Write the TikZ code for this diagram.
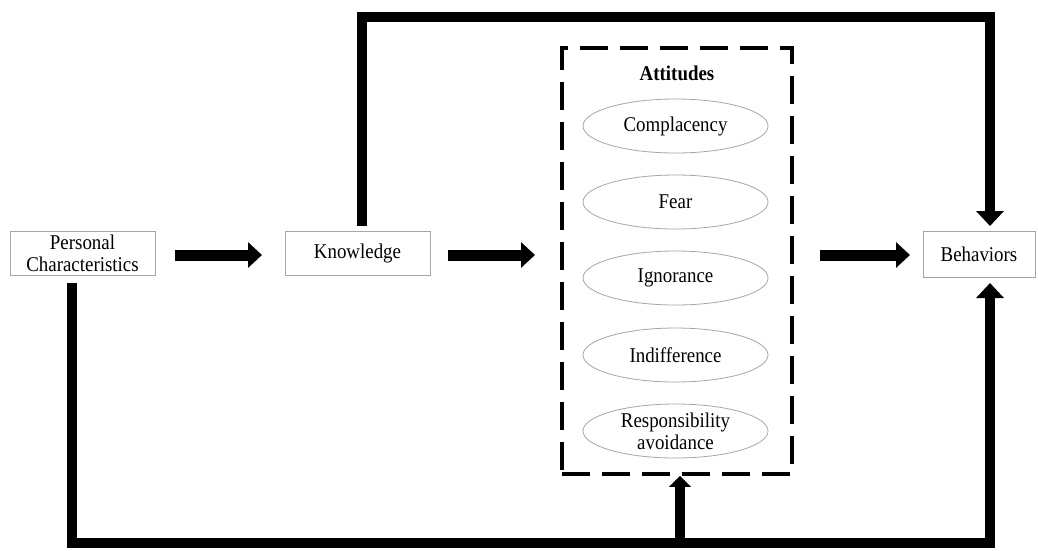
\documentclass[tikz,border=0pt]{standalone}
\usepackage{fontspec}
\setmainfont{Liberation Serif}[FakeStretch=0.9]
\usetikzlibrary{arrows.meta,shapes.geometric}
\begin{document}
\begin{tikzpicture}[x=1pt,y=-1pt,
 txt/.style={font=\fontsize{21}{22}\selectfont},
 box/.style={draw=gray!70, line width=0.8pt, inner sep=0pt, align=center, txt},
 ell/.style={ellipse, draw=gray!70, line width=0.8pt, minimum width=185pt, minimum height=54pt, inner sep=0pt, align=center, txt},
 fat/.style={line width=11pt, -{Triangle[length=14pt,width=25pt]}},
 loopline/.style={line width=10pt, line join=miter, -{Triangle[length=15pt,width=27pt]}},
 branch/.style={line width=10pt, -{Triangle[length=11pt,width=21pt]}}
]
\useasboundingbox (0,0) rectangle (1038,550);
\fill[white] (0,0) rectangle (1038,550);
% boxes
\node[box, minimum width=145pt, minimum height=44pt] (pc) at (82.5,253.5) {Personal\\Characteristics};
\node[box, minimum width=145pt, minimum height=44pt] (kn) at (357.5,253) {Knowledge};
\node[box, minimum width=112pt, minimum height=46pt] (beh) at (979,254) {Behaviors};
% attitudes
\node[draw, line width=3.5pt, dash pattern=on 28pt off 12pt, minimum width=230pt, minimum height=426pt, inner sep=0pt] (att) at (677,261) {};
\node[txt, font=\fontsize{21}{22}\selectfont\bfseries] (atl) at (677,73) {Attitudes};
\node[ell] (e1) at (675.5,126) {Complacency};
\node[ell] (e2) at (675.5,202) {Fear};
\node[ell] (e3) at (675.5,278) {Ignorance};
\node[ell] (e4) at (675.5,355) {Indifference};
\node[ell] (e5) at (675.5,431) {Responsibility\\avoidance};
% horizontal arrows
\coordinate (a1s) at (175,255); \coordinate (a1e) at (262,255);
\coordinate (a2s) at (448,255); \coordinate (a2e) at (535,255);
\coordinate (a3s) at (820,255); \coordinate (a3e) at (910,255);
\draw[fat] (a1s) -- (a1e);
\draw[fat] (a2s) -- (a2e);
\draw[fat] (a3s) -- (a3e);
% top loop
\coordinate (t0) at (362,226);
\coordinate (t1) at (362,17);
\coordinate (t2) at (990,17);
\coordinate (t3) at (990,226);
\draw[loopline] (t0) -- (t1) -- (t2) -- (t3);
% bottom loop
\coordinate (b0) at (72,283);
\coordinate (b1) at (72,543);
\coordinate (b2) at (990,543);
\coordinate (b3) at (990,283);
\draw[loopline] (b0) -- (b1) -- (b2) -- (b3);
\coordinate (br) at (680,543);
\draw[branch] (br) -- (att.south -| br);
\end{tikzpicture}
\end{document}
